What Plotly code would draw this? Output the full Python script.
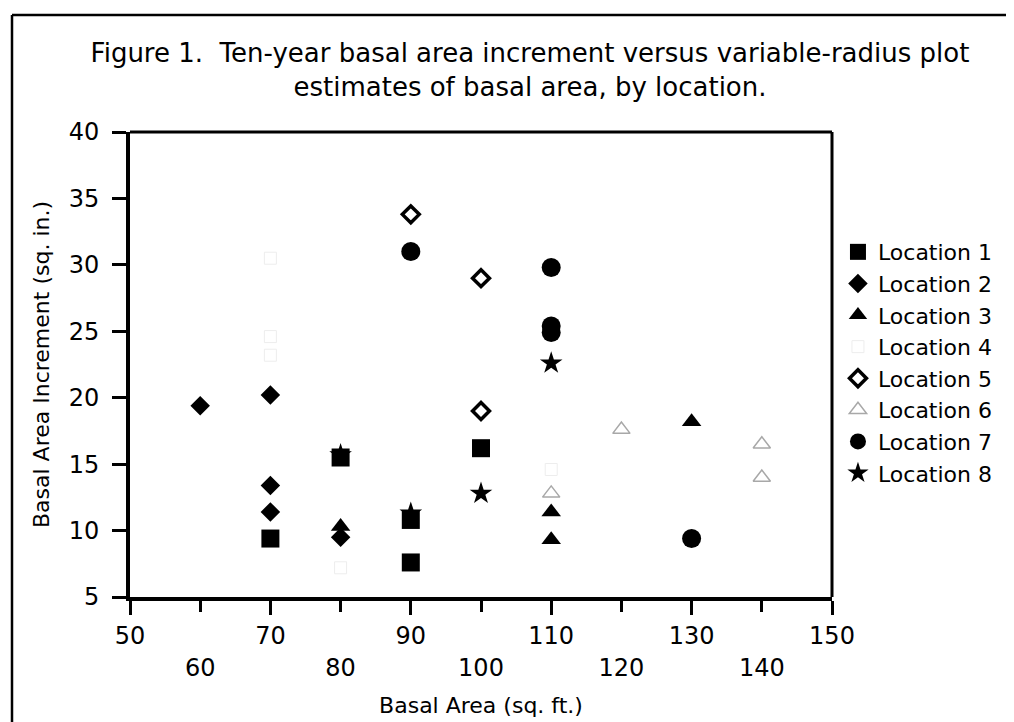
import plotly.graph_objects as go

# ---- data ----
loc1_x = [70, 80, 90, 90, 100]
loc1_y = [9.4, 15.5, 10.8, 7.6, 16.2]
loc2_x = [60, 70, 70, 70, 80]
loc2_y = [19.4, 20.2, 13.4, 11.4, 9.5]
loc3_x = [80, 110, 110, 130]
loc3_y = [10.3, 11.4, 9.3, 18.2]
loc4_x = [70, 70, 70, 80, 110]
loc4_y = [30.5, 24.6, 23.2, 7.2, 14.6]
loc5_x = [90, 100, 100]
loc5_y = [33.8, 29.0, 19.0]
loc6_x = [110, 120, 140, 140]
loc6_y = [12.8, 17.6, 16.5, 14.0]
loc7_x = [90, 110, 110, 110, 130]
loc7_y = [31.0, 29.8, 25.4, 24.9, 9.4]
loc8_x = [80, 90, 100, 110]
loc8_y = [15.7, 11.3, 12.8, 22.6]

x_upper_ticks = [50, 70, 90, 110, 130, 150]
x_lower_ticks = [60, 80, 100, 120, 140]
y_ticks = [5, 10, 15, 20, 25, 30, 35, 40]

FONT = "DejaVu Sans, Liberation Sans, Arial, sans-serif"

fig = go.Figure()

def add(name, xs, ys, symbol, size, color="black", line_color=None, line_width=0):
    fig.add_trace(go.Scatter(
        x=xs, y=ys, mode="markers", name=name,
        marker=dict(symbol=symbol, size=size, color=color,
                    line=dict(color=line_color or color, width=line_width)),
    ))

add("Location 1", loc1_x, loc1_y, "square", 18)
add("Location 2", loc2_x, loc2_y, "diamond", 15)
add("Location 3", loc3_x, loc3_y, "triangle-up", 17)
add("Location 4", loc4_x, loc4_y, "square-open", 12, color="#ededed", line_width=1)
add("Location 5", loc5_x, loc5_y, "diamond-open", 13, line_width=3.5)
add("Location 6", loc6_x, loc6_y, "triangle-up-open", 15, color="#a8a8a8", line_width=1.5)
add("Location 7", loc7_x, loc7_y, "circle", 19)
add("Location 8", loc8_x, loc8_y, "star", 17)

# second x axis (lower row of staggered tick labels)
fig.add_trace(go.Scatter(x=[50, 150], y=[5, 5], xaxis="x2", mode="markers",
                         marker=dict(opacity=0), showlegend=False, hoverinfo="skip"))

# the page body adds an 8px offset; figure is sized so it fits the window
OFF = 8
W, H = 1014 - OFF, 722 - OFF
L, T = 130 - OFF, 132 - OFF
PW, PH = 702, 465
R, B = W - L - PW, H - T - PH

fig.update_layout(
    width=W, height=H,
    margin=dict(l=L, r=R, t=T, b=B, autoexpand=False),
    paper_bgcolor="white", plot_bgcolor="white",
    font=dict(family=FONT, color="black"),
    title=dict(
        text="Figure 1.\u00a0 Ten-year basal area increment versus variable-radius plot<br>estimates of basal area, by location.",
        x=(530 - OFF) / W, xanchor="center", y=1 - 54 / H, yanchor="top",
        font=dict(size=26, family=FONT, color="black"),
    ),
    xaxis=dict(
        range=[50, 150], tickvals=x_upper_ticks, ticktext=[str(v) for v in x_upper_ticks],
        showgrid=False, zeroline=False, showline=True, linewidth=4, linecolor="black",
        ticks="outside", ticklen=14, tickwidth=3, tickcolor="black", automargin=False,
        tickfont=dict(size=24, family=FONT), ticklabelstandoff=0,
        title=dict(text="Basal Area (sq. ft.)", font=dict(size=22, family=FONT), standoff=50),
    ),
    xaxis2=dict(
        range=[50, 150], overlaying="x", side="bottom", anchor="y",
        tickvals=x_lower_ticks, ticktext=[str(v) for v in x_lower_ticks],
        showgrid=False, zeroline=False, showline=False, automargin=False,
        ticks="outside", ticklen=14, tickwidth=3, tickcolor="black",
        tickfont=dict(size=24, family=FONT), ticklabelstandoff=35,
    ),
    yaxis=dict(
        range=[5, 40], tickvals=y_ticks, ticktext=[str(v) for v in y_ticks],
        showgrid=False, zeroline=False, showline=True, linewidth=4, linecolor="black",
        ticks="outside", ticklen=14, tickwidth=3, tickcolor="black", automargin=False,
        tickfont=dict(size=24, family=FONT), ticklabelstandoff=8,
        title=dict(text="Basal Area Increment (sq. in.)", font=dict(size=22, family=FONT), standoff=14),
    ),
    legend=dict(
        x=1.0085, xanchor="left", y=0.787, yanchor="top",
        font=dict(size=22, family=FONT), bgcolor="rgba(0,0,0,0)",
        tracegroupgap=0, itemsizing="trace",
    ),
    showlegend=True,
)

# top and right frame lines of the plot area
fig.add_shape(type="line", xref="paper", yref="paper", x0=0, x1=1, y0=1, y1=1,
              line=dict(color="black", width=3))
fig.add_shape(type="line", xref="paper", yref="paper", x0=1, x1=1, y0=0, y1=1,
              line=dict(color="black", width=3))

# outer figure border (left and top edges), given in page pixels
px = lambda v: (v - OFF - L) / PW
py = lambda v: 1 - (v - OFF - T) / PH
fig.add_shape(type="line", xref="paper", yref="paper",
              x0=px(12), x1=px(1014), y0=py(15), y1=py(15),
              line=dict(color="black", width=2.5))
fig.add_shape(type="line", xref="paper", yref="paper",
              x0=px(12), x1=px(12), y0=py(15), y1=py(722),
              line=dict(color="black", width=2.5))

fig.write_html("out.html")
